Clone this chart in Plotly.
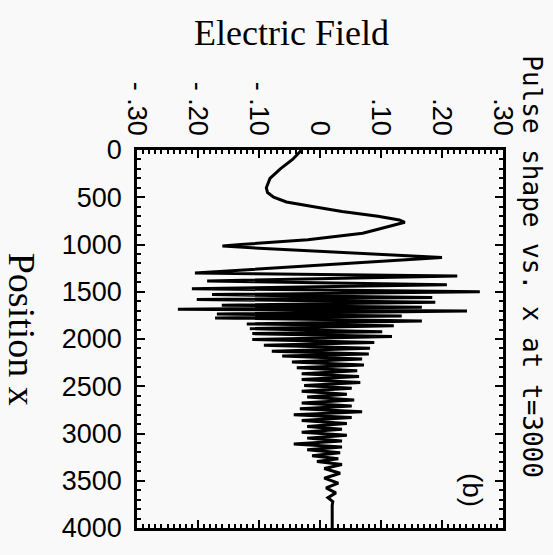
import plotly.graph_objects as go

# Position along the pulse (vertical axis) and electric field (horizontal axis)
position = [
    0, 100, 200, 300, 400, 450, 500, 550, 600, 650, 700, 740, 765, 790,
    830, 880, 950, 1000, 1015, 1040, 1080, 1137,
    1302, 1333, 1385, 1426, 1468, 1499, 1530, 1561, 1581, 1612, 1643, 1664,
    1685, 1705, 1736, 1757, 1778, 1809, 1840, 1860, 1891, 1922, 1943, 1974,
    2005, 2036, 2067, 2098, 2129, 2160, 2181, 2212, 2243, 2274, 2305, 2336,
    2367, 2398, 2429, 2460, 2491, 2522, 2553, 2584, 2615, 2646, 2677, 2708,
    2739, 2770, 2801, 2832, 2863, 2894, 2925, 2956, 2987, 3018, 3049, 3080,
    3111, 3142, 3173, 3204, 3235, 3266, 3297, 3328,
    3370, 3421, 3473, 3525, 3576, 3628, 3680, 3721, 3760, 4000,
]
field = [
    -0.030, -0.045, -0.065, -0.082, -0.088, -0.086, -0.076, -0.055, -0.010, 0.036, 0.095, 0.130, 0.139, 0.125,
    0.100, 0.070, -0.020, -0.130, -0.160, -0.100, 0.030, 0.200,
    -0.205, 0.225, -0.185, 0.208, -0.210, 0.262, -0.177, 0.184, -0.202, 0.189, -0.161, 0.167,
    -0.233, 0.241, -0.169, 0.134, -0.172, 0.167, -0.120, 0.121, -0.115, 0.102, -0.111, 0.118,
    -0.111, 0.089, -0.092, 0.082, -0.079, 0.080, -0.062, 0.069, -0.046, 0.072, -0.038, 0.061,
    -0.030, 0.064, -0.030, 0.066, -0.026, 0.052, -0.030, 0.044, -0.021, 0.056, -0.030, 0.052,
    -0.033, 0.069, -0.043, 0.052, -0.030, 0.044, -0.021, 0.036, -0.030, 0.044, -0.021, 0.036,
    -0.043, 0.036, -0.021, 0.033, -0.013, 0.030, -0.005, 0.036,
    0.007, 0.033, 0.007, 0.030, 0.010, 0.026, 0.013, 0.021, 0.020, 0.020,
]

x_tickvals = [-0.3, -0.2, -0.1, 0.0, 0.1, 0.2, 0.3]
x_ticktext = ["- .30", "- .20", "- .10", "0", ".10", ".20", ".30"]
y_tickvals = [0, 500, 1000, 1500, 2000, 2500, 3000, 3500, 4000]
y_ticktext = ["0", "500", "1000", "1500", "2000", "2500", "3000", "3500", "4000"]

bg = "#f9f9f9"
tickfont = dict(family="Liberation Sans, Arial, sans-serif", size=27, color="black")

fig = go.Figure(
    go.Scatter(x=field, y=position, mode="lines",
               line=dict(color="black", width=3), hoverinfo="skip")
)

fig.update_layout(
    width=553, height=555,
    margin=dict(l=137, r=50, t=150, b=18),
    paper_bgcolor=bg, plot_bgcolor=bg,
    showlegend=False,
    xaxis=dict(
        side="top", range=[-0.3, 0.3],
        tickmode="array", tickvals=x_tickvals, ticktext=x_ticktext,
        tickangle=90, tickfont=tickfont, ticklabelstandoff=2,
        ticks="inside", ticklen=8, tickwidth=2, tickcolor="black",
        showline=True, linecolor="black", linewidth=2.5, mirror="ticks",
        showgrid=False, zeroline=False,
        minor=dict(dtick=0.01, tick0=0, ticks="inside", ticklen=4,
                   tickwidth=1.5, tickcolor="black", showgrid=False),
    ),
    yaxis=dict(
        range=[4000, 0],
        tickmode="array", tickvals=y_tickvals, ticktext=y_ticktext,
        tickfont=tickfont, ticklabelstandoff=7,
        ticks="inside", ticklen=8, tickwidth=2, tickcolor="black",
        showline=True, linecolor="black", linewidth=2.5, mirror="ticks",
        showgrid=False, zeroline=False,
        minor=dict(dtick=100, tick0=0, ticks="inside", ticklen=4,
                   tickwidth=1.5, tickcolor="black", showgrid=False),
    ),
    annotations=[
        dict(text="Electric Field", xref="paper", yref="paper",
             x=0.421, y=1.31, xanchor="center", yanchor="middle", showarrow=False,
             font=dict(family="Liberation Serif, Times New Roman, serif", size=36, color="black")),
        dict(text="Position x", xref="paper", yref="paper",
             x=-0.314, y=0.527, xanchor="center", yanchor="middle", showarrow=False, textangle=90,
             font=dict(family="Liberation Serif, Times New Roman, serif", size=38, color="black")),
        dict(text="Pulse shape vs. x at t=3000", xref="paper", yref="paper",
             x=1.079, y=0.69, xanchor="center", yanchor="middle", showarrow=False, textangle=90,
             font=dict(family="DejaVu Sans Mono, monospace", size=26, color="black")),
        dict(text="(b)", xref="paper", yref="paper",
             x=0.915, y=0.101, xanchor="center", yanchor="middle", showarrow=False, textangle=90,
             font=dict(family="Liberation Sans, Arial, sans-serif", size=28, color="black")),
    ],
)

fig.write_html("out.html")
